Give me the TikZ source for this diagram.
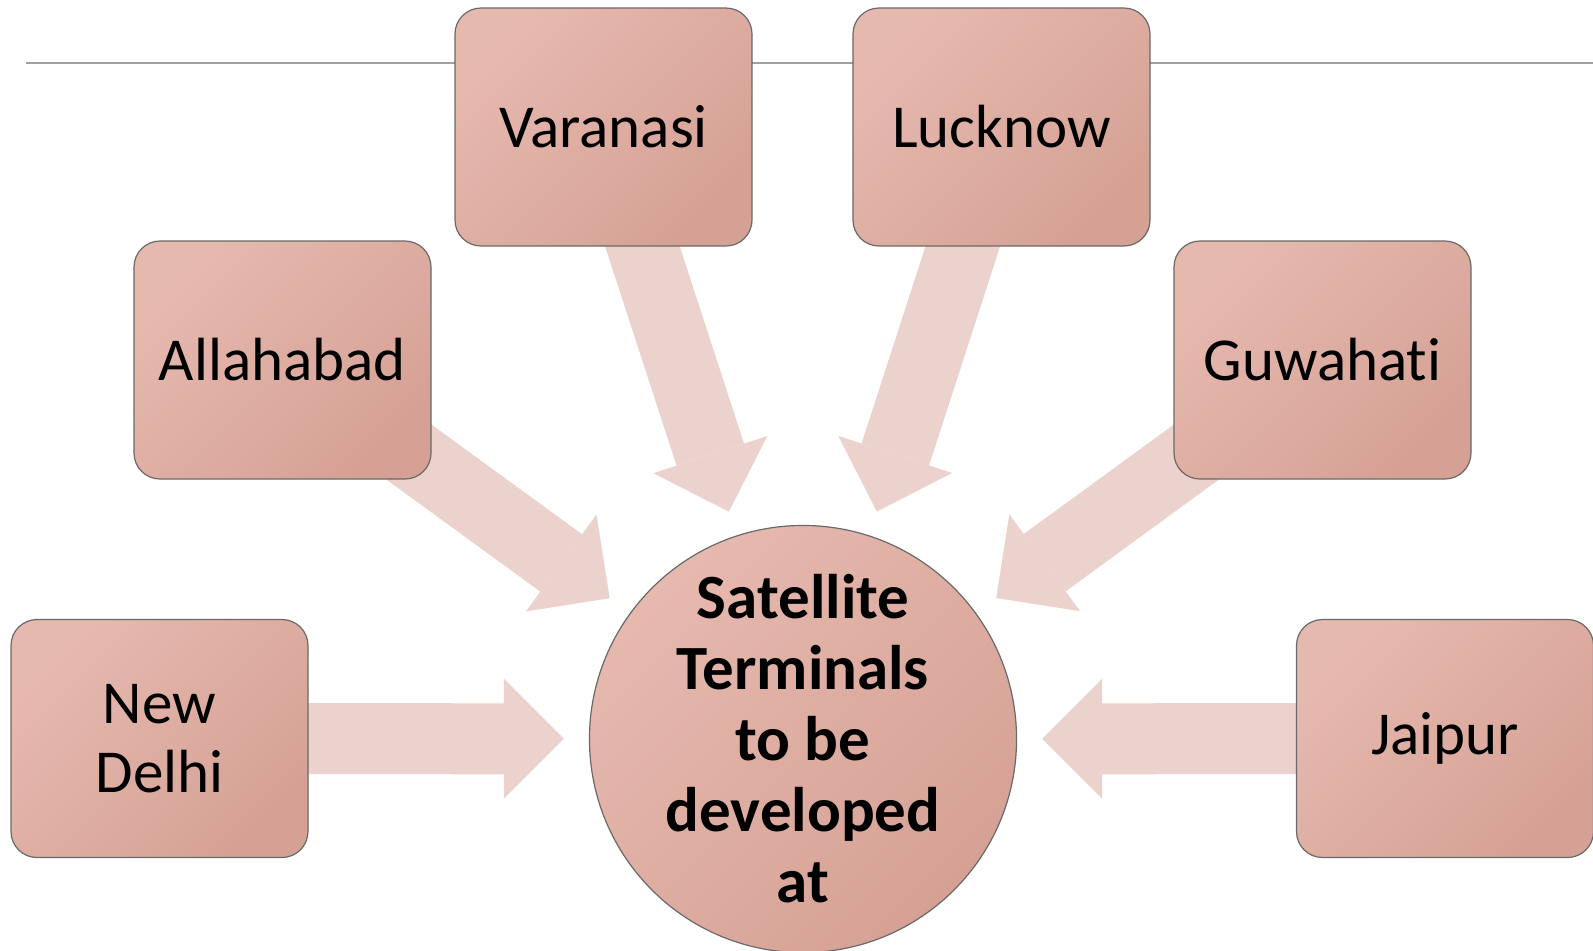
\documentclass[tikz,border=0pt]{standalone}
\usepackage{fontspec}
\setmainfont{Carlito}[Ligatures={NoCommon}]
\usetikzlibrary{arrows.meta}
\pgfdeclarelayer{background}
\pgfsetlayers{background,main}
\definecolor{boxlight}{RGB}{230,185,175}
\definecolor{boxdark}{RGB}{214,161,149}
\definecolor{flowpink}{RGB}{236,210,205}
\definecolor{rimgray}{RGB}{105,105,105}
\definecolor{rulegray}{RGB}{160,160,160}

\begin{document}
\begin{tikzpicture}[x=0.5pt, y=-0.5pt,
    city/.style = {draw=rimgray, line width=0.6pt, rounded corners=13pt, top color=boxlight, bottom color=boxdark, shading angle=45, minimum width=148.5pt, minimum height=119pt, align=center, font=\fontsize{30.5pt}{34.5pt}\selectfont},
    hub/.style = {draw=rimgray, line width=0.6pt, circle, top color=boxlight, bottom color=boxdark, shading angle=45, minimum size=212pt, inner sep=0pt, align=center, font=\fontsize{31.5pt}{35.5pt}\selectfont\bfseries},
    feed/.style = {draw=flowpink, line width=35.5pt, -{Triangle[width=60pt, length=30pt, line width=0pt]}, shorten >=12.5pt}]
    \useasboundingbox (0,0) rectangle (1593,950);

    \node[hub] (hub) at (803,739) {Satellite \\ Terminals \\ to be \\ developed \\ at};

    \node[city] (varanasi) at (603.5,127) {Varanasi};
    \node[city] (lucknow) at (1001.5,127) {Lucknow};
    \node[city] (allahabad) at (282.5,360) {Allahabad};
    \node[city] (guwahati) at (1322.5,360) {Guwahati};
    \node[city] (new delhi) at (159.5,738.5) {New \\ Delhi};
    \node[city] (jaipur) at (1445,738.5) {Jaipur};

    \coordinate (rule start) at (26,63);
    \coordinate (rule end) at (1593,63);

    \begin{pgfonlayer}{background}
        \draw[rulegray, line width=0.75pt] (rule start) -- (rule end);

        \draw[feed] (varanasi.center) -- (hub);
        \draw[feed] (lucknow.center) -- (hub);
        \draw[feed] (allahabad.center) -- (hub);
        \draw[feed] (guwahati.center) -- (hub);
        \draw[feed] (new delhi.center) -- (hub);
        \draw[feed] (jaipur.center) -- (hub);
    \end{pgfonlayer}
\end{tikzpicture}
\end{document}
